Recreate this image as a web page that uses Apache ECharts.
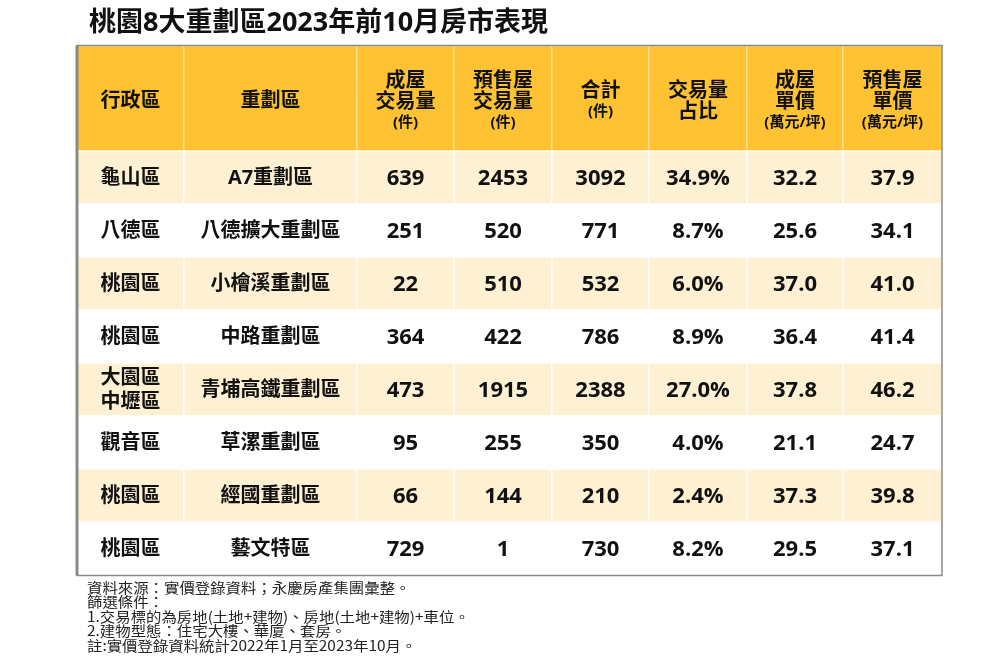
<!DOCTYPE html>
<html><head><meta charset="utf-8">
<script src="https://cdn.jsdelivr.net/npm/echarts@6/dist/echarts.min.js"></script>
<style>html,body{margin:0;padding:0;background:#fff}#c{width:1000px;height:667px}</style>
</head><body><div id="c"></div>
<script>
// ---- data ----
const titleText = '桃園8大重劃區2023年前10月房市表現';
const headerMain = ['行政區','重劃區','成屋\n交易量','預售屋\n交易量','合計','交易量\n占比','成屋\n單價','預售屋\n單價'];
const headerUnit = ['','','(件)','(件)','(件)','','(萬元/坪)','(萬元/坪)'];
const districts = ['龜山區','八德區','桃園區','桃園區','大園區\n中壢區','觀音區','桃園區','桃園區'];
const zones = ['A7重劃區','八德擴大重劃區','小檜溪重劃區','中路重劃區','青埔高鐵重劃區','草漯重劃區','經國重劃區','藝文特區'];
const existingVol = [639,251,22,364,473,95,66,729];
const presaleVol = [2453,520,510,422,1915,255,144,1];
const totalVol = [3092,771,532,786,2388,350,210,730];
const sharePct = [34.9,8.7,6.0,8.9,27.0,4.0,2.4,8.2];
const existingPrice = [32.2,25.6,37.0,36.4,37.8,21.1,37.3,29.5];
const presalePrice = [37.9,34.1,41.0,41.4,46.2,24.7,39.8,37.1];
const notes = [
  '資料來源：實價登錄資料；永慶房產集團彙整。',
  '篩選條件：',
  '1.交易標的為房地(土地+建物)、房地(土地+建物)+車位。',
  '2.建物型態：住宅大樓、華廈、套房。',
  '註:實價登錄資料統計2022年1月至2023年10月。'
];

// ---- layout / style ----
const colWidths = [107,173,97,98,97,98,96,99];
const colEdges = [0];
colWidths.forEach(w => colEdges.push(colEdges[colEdges.length-1] + w));
const tableW = colEdges[colEdges.length-1];
const FONT = "'Open Sans','Noto Sans CJK TC','Noto Sans CJK SC',sans-serif";
const HEADER_BG = '#FEC232';
const STRIPE_BG = '#FDF0D3';

const rowTexts = districts.map((d, i) => [
  d, zones[i], String(existingVol[i]), String(presaleVol[i]), String(totalVol[i]),
  sharePct[i].toFixed(1) + '%', existingPrice[i].toFixed(1), presalePrice[i].toFixed(1)
]);

function headerRich(c) {
  const lines = headerMain[c].split('\n').map(s => '{m|' + s + '}');
  if (headerUnit[c]) lines.push('{s|' + headerUnit[c] + '}');
  return lines.join('\n');
}

const bodyData = [];
rowTexts.forEach((row, r) => row.forEach((t, c) => bodyData.push([c, r])));
const headData = headerMain.map((h, c) => [c, 0]);

function cellBox(api) {
  const c = api.value(0), r = api.value(1);
  const p0 = api.coord([colEdges[c], r]);
  const p1 = api.coord([colEdges[c + 1], r]);
  const h = api.size([0, 1])[1];
  return { c, r, x: p0[0], y: p0[1] - h / 2, w: p1[0] - p0[0], h, cy: p0[1] };
}

const chart = echarts.init(document.getElementById('c'), null, { renderer: 'canvas' });
chart.setOption({
  backgroundColor: '#ffffff',
  animation: false,
  title: {
    text: titleText, left: 84, top: 5,
    textStyle: { fontFamily: FONT, fontSize: 27, fontWeight: 'bold', color: '#111' }
  },
  grid: [
    { left: 77, width: tableW, top: 46, height: 105 },
    { left: 77, width: tableW, top: 151, height: 424 }
  ],
  xAxis: [
    { gridIndex: 0, type: 'value', min: 0, max: tableW, show: false },
    { gridIndex: 1, type: 'value', min: 0, max: tableW, show: false }
  ],
  yAxis: [
    { gridIndex: 0, type: 'category', data: ['header'], inverse: true, show: false },
    { gridIndex: 1, type: 'category', data: zones, inverse: true, show: false }
  ],
  series: [
    {
      type: 'custom', xAxisIndex: 0, yAxisIndex: 0, data: headData, silent: true,
      renderItem: function (params, api) {
        const b = cellBox(api);
        return { type: 'group', children: [
          { type: 'rect', shape: { x: b.x, y: b.y, width: b.w, height: b.h },
            style: { fill: HEADER_BG, stroke: 'rgba(255,255,255,0.35)', lineWidth: 1.5 } },
          { type: 'text', style: {
              text: headerRich(b.c), x: b.x + b.w / 2, y: b.cy + 3,
              align: 'center', verticalAlign: 'middle',
              rich: {
                m: { fontFamily: FONT, fontSize: 20, fontWeight: 'bold', fill: '#111', lineHeight: 21, align: 'center' },
                s: { fontFamily: FONT, fontSize: 15, fontWeight: 'bold', fill: '#111', lineHeight: 20, align: 'center' }
              } } }
        ] };
      }
    },
    {
      type: 'custom', xAxisIndex: 1, yAxisIndex: 1, data: bodyData, silent: true,
      renderItem: function (params, api) {
        const b = cellBox(api);
        const text = rowTexts[b.r][b.c];
        const isNum = b.c >= 2;
        return { type: 'group', children: [
          { type: 'rect', shape: { x: b.x, y: b.y, width: b.w, height: b.h },
            style: { fill: b.r % 2 === 0 ? STRIPE_BG : '#ffffff', stroke: 'rgba(255,255,255,0.8)', lineWidth: 1.5 } },
          { type: 'text', style: {
              text: text, x: b.x + b.w / 2, y: b.cy + 1,
              align: 'center', verticalAlign: 'middle',
              fontFamily: FONT, fontSize: isNum ? 22 : 20, fontWeight: 'bold',
              fill: '#111', lineHeight: 24 } }
        ] };
      }
    }
  ],
  graphic: [
    { type: 'rect', silent: true, shape: { x: 77, y: 45.5, width: tableW, height: 530 },
      style: { fill: 'none', stroke: '#8a8a8a', lineWidth: 1.5 }, z: 100 },
    { type: 'line', silent: true, shape: { x1: 77, y1: 45.5, x2: 77, y2: 575.5 },
      style: { stroke: '#8a8a8a', lineWidth: 3 }, z: 100 },
    { type: 'text', silent: true, x: 87, y: 580, scaleX: 1.1, z: 100,
      style: { text: notes.join('\n'), fontFamily: "'Noto Sans CJK TC',sans-serif", fontSize: 14,
               lineHeight: 14.6, fill: '#222' } }
  ]
});
</script></body></html>
